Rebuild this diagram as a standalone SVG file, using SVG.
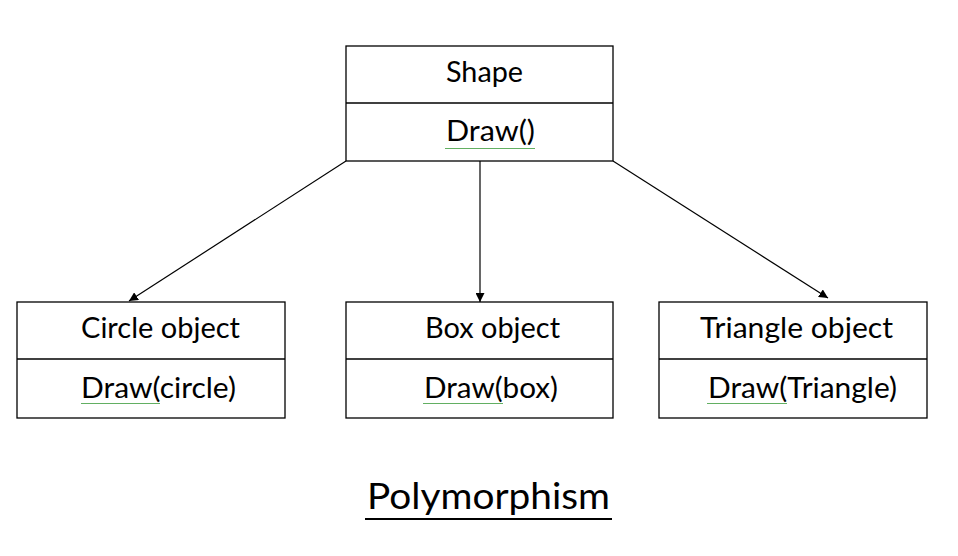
<svg xmlns="http://www.w3.org/2000/svg" width="958" height="556" viewBox="0 0 958 556">
<defs>
<style>
.box{fill:#fff;stroke:#000;stroke-width:1.3}
.div{stroke:#000;stroke-width:1.3}
.t{font-family:Lato,"Liberation Sans",sans-serif;font-size:28px;fill:#000}
.edge{stroke:#000;stroke-width:1.2;fill:none;marker-end:url(#ah)}
.wave{stroke:#3a9a3a;stroke-width:1;fill:none}
</style>
<marker id="ah" viewBox="0 0 10 10" refX="10" refY="5" markerWidth="9" markerHeight="9" markerUnits="userSpaceOnUse" orient="auto">
<path d="M0,0 L10,5 L0,10 Z" fill="#000"/>
</marker>
<pattern id="wv" width="4" height="3" patternUnits="userSpaceOnUse">
<path d="M0,2 L1,1 L2,2 L3,1 L4,2" stroke="#3a9a3a" stroke-width="0.8" fill="none"/>
</pattern>
</defs>
<rect width="958" height="556" fill="#fff"/>
<g id="connectors">
<line class="edge" x1="346" y1="161" x2="129" y2="301"/>
<line class="edge" x1="480" y1="161" x2="480" y2="302"/>
<line class="edge" x1="613" y1="161" x2="828" y2="298"/>
</g>
<g id="shape">
<rect class="box" x="346" y="46" width="267" height="115"/>
<line class="div" x1="346" y1="103" x2="613" y2="103"/>
<text class="t" x="446" y="82" textLength="77" lengthAdjust="spacingAndGlyphs">Shape</text>
<text class="t" x="446" y="141" textLength="89" lengthAdjust="spacingAndGlyphs">Draw()</text>
<rect x="445" y="146" width="90" height="3" fill="url(#wv)"/>
</g>
<g id="circle">
<rect class="box" x="17" y="302" width="268" height="116"/>
<line class="div" x1="17" y1="359" x2="285" y2="359"/>
<text class="t" x="81" y="338" textLength="159" lengthAdjust="spacingAndGlyphs">Circle object</text>
<text class="t" x="81" y="398" textLength="155" lengthAdjust="spacingAndGlyphs">Draw(circle)</text>
<rect x="81" y="403" width="79" height="3" fill="url(#wv)"/>
</g>
<g id="box">
<rect class="box" x="346" y="302" width="267" height="116"/>
<line class="div" x1="346" y1="359" x2="613" y2="359"/>
<text class="t" x="425" y="338" textLength="135" lengthAdjust="spacingAndGlyphs">Box object</text>
<text class="t" x="424" y="398" textLength="134" lengthAdjust="spacingAndGlyphs">Draw(box)</text>
<rect x="423" y="403" width="80" height="3" fill="url(#wv)"/>
</g>
<g id="triangle">
<rect class="box" x="659" y="302" width="268" height="116"/>
<line class="div" x1="659" y1="359" x2="927" y2="359"/>
<text class="t" x="700" y="338" textLength="193" lengthAdjust="spacingAndGlyphs">Triangle object</text>
<text class="t" x="708" y="398" textLength="189" lengthAdjust="spacingAndGlyphs">Draw(Triangle)</text>
<rect x="707" y="403" width="80" height="3" fill="url(#wv)"/>
</g>
<g id="title">
<text class="t" x="367" y="509" style="font-size:37px" textLength="243" lengthAdjust="spacingAndGlyphs">Polymorphism</text>
<line x1="365" y1="519" x2="612" y2="519" stroke="#000" stroke-width="2.2"/>
</g>
</svg>
